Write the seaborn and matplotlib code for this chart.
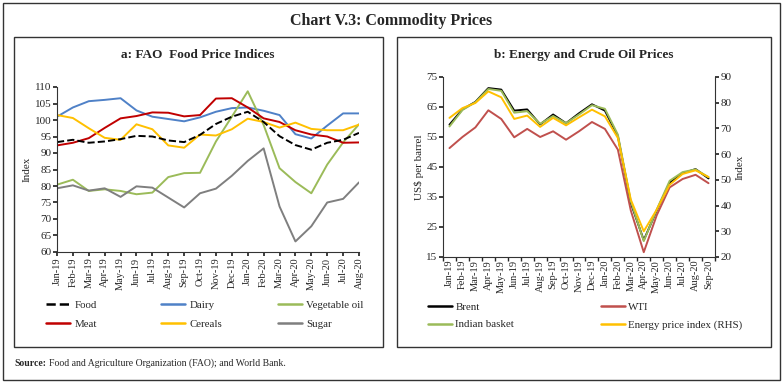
import numpy as np
import pandas as pd
import matplotlib
matplotlib.use("Agg")
import matplotlib.pyplot as plt
import seaborn as sns
from matplotlib.patches import Rectangle
from matplotlib.lines import Line2D

# ---------------- data ----------------
months_a = ["Jan-19", "Feb-19", "Mar-19", "Apr-19", "May-19", "Jun-19", "Jul-19", "Aug-19",
            "Sep-19", "Oct-19", "Nov-19", "Dec-19", "Jan-20", "Feb-20", "Mar-20", "Apr-20",
            "May-20", "Jun-20", "Jul-20", "Aug-20"]
food = [93.3, 94.0, 93.1, 93.5, 94.2, 95.2, 95.0, 93.8, 93.3, 95.5, 98.8, 101.0, 102.5, 99.4,
        95.1, 92.4, 91.0, 93.1, 94.0, 96.1]
dairy = [101.0, 103.8, 105.7, 106.1, 106.6, 102.9, 101.0, 100.3, 99.6, 100.8, 102.5, 103.6,
         103.8, 102.8, 101.5, 95.7, 94.4, 98.3, 102.0, 102.0]
veg_oil = [80.4, 81.9, 78.5, 79.0, 78.5, 77.5, 78.0, 82.7, 83.9, 84.0, 93.5, 101.0, 108.7, 98.5,
           85.4, 81.2, 77.8, 86.5, 93.2, 98.7]
meat = [92.3, 93.1, 94.5, 97.6, 100.5, 101.2, 102.3, 102.2, 101.1, 101.5, 106.5, 106.6, 103.8,
        100.5, 99.4, 96.9, 95.6, 95.0, 93.1, 93.2]
cereals = [101.5, 100.6, 97.5, 94.6, 94.0, 98.7, 97.2, 92.3, 91.6, 95.6, 95.3, 97.2, 100.4, 99.4,
           97.7, 99.2, 97.3, 96.9, 96.9, 98.6]
sugar = [79.3, 80.2, 78.6, 79.3, 76.7, 79.9, 79.5, 76.5, 73.5, 77.8, 79.2, 83.1, 87.6, 91.4,
         73.8, 63.2, 67.8, 75.0, 76.1, 81.1]

months_b = months_a + ["Sep-20"]
brent = [59.1, 64.2, 66.7, 71.3, 70.8, 63.8, 64.2, 59.2, 62.5, 59.6, 62.9, 65.9, 63.8, 55.3,
         33.0, 20.6, 30.5, 39.8, 42.9, 44.3, 41.2]
wti = [51.3, 55.0, 58.2, 63.9, 61.0, 54.9, 57.7, 55.0, 56.9, 54.1, 56.9, 60.0, 57.7, 50.8,
       30.5, 16.6, 28.9, 38.2, 41.0, 42.4, 39.6]
indian_basket = [58.5, 64.0, 66.6, 71.0, 70.4, 63.1, 63.6, 59.4, 62.0, 59.6, 62.5, 65.6, 64.4,
                 55.8, 33.6, 20.3, 30.8, 40.4, 43.3, 44.2, 41.6]
energy_index = [74.1, 77.9, 79.9, 84.4, 82.1, 73.7, 75.0, 70.6, 74.1, 71.2, 74.3, 77.3, 74.7,
                66.3, 42.3, 30.0, 38.4, 48.1, 52.3, 53.7, 51.1]

# ---------------- style ----------------
sns.set_theme(style="white")
plt.rcParams["font.family"] = ["Liberation Serif", "DejaVu Serif"]
plt.rcParams["axes.linewidth"] = 0.8

W, H = 783, 382
fig = plt.figure(figsize=(W / 100, H / 100), dpi=100)


def fx(px):
    return px / W


def fy(py):
    return 1 - py / H


# borders
fig.add_artist(Rectangle((fx(3), fy(380)), fx(777), 377 / H, transform=fig.transFigure,
                         fill=False, lw=1.0, ec="#333333"))
fig.add_artist(Rectangle((fx(14), fy(347)), fx(369), 310 / H, transform=fig.transFigure,
                         fill=False, lw=1.0, ec="#333333"))
fig.add_artist(Rectangle((fx(397), fy(347)), fx(374), 310 / H, transform=fig.transFigure,
                         fill=False, lw=1.0, ec="#333333"))

fig.text(0.5, fy(21), "Chart V.3: Commodity Prices", ha="center", va="center",
         fontsize=11.5, fontweight="bold")
fig.text(fx(198), fy(55), "a: FAO  Food Price Indices", ha="center", va="center",
         fontsize=9.5, fontweight="bold")
fig.text(fx(584), fy(55), "b: Energy and Crude Oil Prices", ha="center", va="center",
         fontsize=9.5, fontweight="bold")
fig.text(fx(14), fy(363), "Source:", ha="left", va="center", fontsize=7, fontweight="bold")
fig.text(fx(49), fy(363), "Food and Agriculture Organization (FAO); and World Bank.",
         ha="left", va="center", fontsize=7)

TICK = 8

# ---------------- panel a ----------------
axa = fig.add_axes([fx(57), fy(252), fx(302), (252 - 87) / H])
xa = np.arange(len(months_a))
df_a = pd.DataFrame({"x": xa, "Food": food, "Dairy": dairy, "Vegetable oil": veg_oil,
                     "Meat": meat, "Cereals": cereals, "Sugar": sugar})
col_a = {"Dairy": "#4F81C7", "Vegetable oil": "#9BBB59", "Meat": "#C00000",
         "Cereals": "#FFC000", "Sugar": "#7F7F7F", "Food": "black"}
for name in ["Dairy", "Vegetable oil", "Meat", "Cereals", "Sugar", "Food"]:
    sns.lineplot(data=df_a, x="x", y=name, ax=axa, color=col_a[name], lw=1.4,
                 linestyle="--" if name == "Food" else "-", legend=False)
axa.set_xlim(0, len(months_a) - 1)
axa.set_ylim(60, 110)
axa.set_yticks(np.arange(60, 111, 5))
axa.set_xticks(xa)
axa.set_xticklabels(months_a, rotation=90, fontsize=7.5)
axa.tick_params(axis="y", labelsize=TICK, length=3, direction="out", left=True, pad=1)
axa.tick_params(axis="x", length=3, direction="out", bottom=True, pad=1)
axa.set_xlabel("")
axa.set_ylabel("Index", fontsize=8, labelpad=2)
for s in ["top", "right"]:
    axa.spines[s].set_visible(False)
for s in ["left", "bottom"]:
    axa.spines[s].set_color("#333333")

# legend a (three columns placed separately)
cols_a = [(48, ["Food", "Meat"]), (163, ["Dairy", "Cereals"]), (280, ["Vegetable oil", "Sugar"])]
for px, names in cols_a:
    handles = [Line2D([], [], color=col_a[n], lw=1.8, linestyle="--" if n == "Food" else "-")
               for n in names]
    fig.legend(handles, names, loc="upper left", bbox_to_anchor=(fx(px - 4), fy(298)),
               frameon=False, fontsize=7.8, handlelength=2.2, handletextpad=0.4,
               labelspacing=0.85, borderpad=0.2, borderaxespad=0)

# ---------------- panel b ----------------
axb = fig.add_axes([fx(443), fy(257), fx(272), (257 - 77) / H])
xb = np.arange(len(months_b))
df_b = pd.DataFrame({"x": xb, "Brent": brent, "WTI": wti, "Indian basket": indian_basket,
                     "Energy": energy_index})
col_b = {"Brent": "black", "WTI": "#C0504D", "Indian basket": "#9BBB59",
         "Energy price index (RHS)": "#FFC000"}
sns.lineplot(data=df_b, x="x", y="Brent", ax=axb, color=col_b["Brent"], lw=1.4, legend=False)
sns.lineplot(data=df_b, x="x", y="WTI", ax=axb, color=col_b["WTI"], lw=1.4, legend=False)
sns.lineplot(data=df_b, x="x", y="Indian basket", ax=axb, color=col_b["Indian basket"], lw=1.4,
             legend=False)
axb.set_xlim(-0.5, len(months_b) - 0.5)
axb.set_ylim(15, 75)
axb.set_yticks(np.arange(15, 76, 10))
axb.set_xticks(xb)
axb.set_xticklabels(months_b, rotation=90, fontsize=7.5)
axb.set_xticks(np.arange(-0.5, len(months_b), 1), minor=True)
axb.tick_params(axis="x", which="major", length=0, pad=2)
axb.tick_params(axis="x", which="minor", length=3, direction="out", bottom=True)
axb.tick_params(axis="y", labelsize=TICK, length=3, direction="out", left=True, pad=1)
axb.set_xlabel("")
axb.set_ylabel("US$ per barrel", fontsize=8, labelpad=2)

axr = axb.twinx()
sns.lineplot(data=df_b, x="x", y="Energy", ax=axr, color=col_b["Energy price index (RHS)"],
             lw=1.4, legend=False)
axr.set_ylim(20, 90)
axr.set_yticks(np.arange(20, 91, 10))
axr.tick_params(axis="y", labelsize=TICK, length=3, direction="out", right=True, pad=1)
axr.set_ylabel("Index", fontsize=8, labelpad=3)
axr.set_xlim(-0.5, len(months_b) - 0.5)
for a in (axb, axr):
    a.spines["top"].set_visible(False)
    for s in ["left", "bottom", "right"]:
        a.spines[s].set_color("#333333")
axb.spines["right"].set_visible(False)
axr.spines["left"].set_visible(False)
axr.spines["bottom"].set_visible(False)

cols_b = [(430, ["Brent", "Indian basket"]), (603, ["WTI", "Energy price index (RHS)"])]
for px, names in cols_b:
    handles = [Line2D([], [], color=col_b[n], lw=1.8) for n in names]
    fig.legend(handles, names, loc="upper left", bbox_to_anchor=(fx(px - 4), fy(300)),
               frameon=False, fontsize=7.8, handlelength=2.2, handletextpad=0.3,
               labelspacing=0.75, borderpad=0.2, borderaxespad=0)

fig.savefig("out.png", dpi=100)
